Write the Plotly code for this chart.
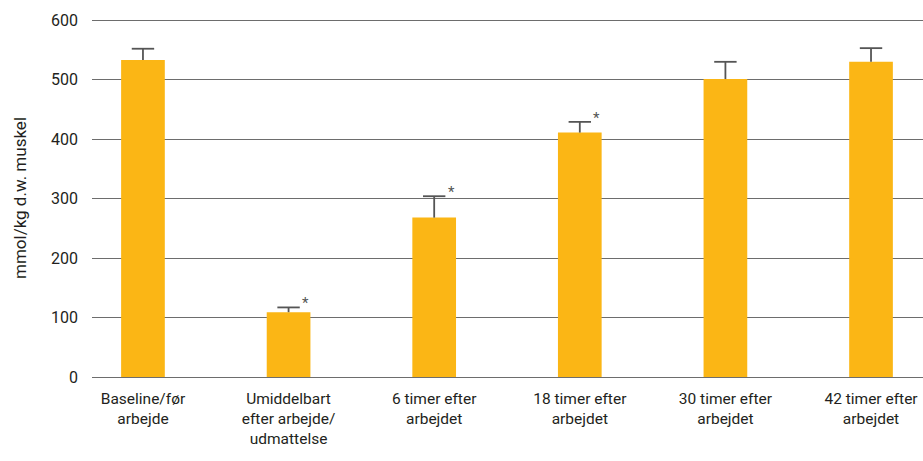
import plotly.graph_objects as go

categories = ["Baseline/før<br>arbejde", "Umiddelbart<br>efter arbejde/<br>udmattelse",
              "6 timer efter<br>arbejdet", "18 timer efter<br>arbejdet",
              "30 timer efter<br>arbejdet", "42 timer efter<br>arbejdet"]
values = [533, 109, 268, 411, 501, 530]
errors = [19, 8, 36, 18, 29, 23]
significant = [False, True, True, True, False, False]
y_ticks = [0, 100, 200, 300, 400, 500, 600]

FONT = "Roboto, Liberation Sans, sans-serif"
ERR_COLOR = "#555555"

fig = go.Figure()
fig.add_trace(go.Bar(
    x=categories, y=values, width=0.30,
    marker=dict(color="#FBB615", line=dict(width=0)),
))

# one-sided (upper) error bars without a lower cap
ex, ey = [], []
for c, v, e in zip(categories, values, errors):
    ex += [c, c, None]
    ey += [v, v + e, None]
fig.add_trace(go.Scatter(x=ex, y=ey, mode="lines",
                         line=dict(color=ERR_COLOR, width=1.8),
                         hoverinfo="skip"))
fig.add_trace(go.Scatter(x=categories, y=[v + e for v, e in zip(values, errors)],
                         mode="markers",
                         marker=dict(symbol="line-ew", size=16,
                                     line=dict(color=ERR_COLOR, width=1.8)),
                         hoverinfo="skip"))

for c, v, e, s in zip(categories, values, errors, significant):
    if s:
        fig.add_annotation(x=c, y=v + e, text="*", showarrow=False,
                           xshift=17, yshift=4,
                           font=dict(family=FONT, size=15, color="#555555"))

fig.update_layout(
    width=923, height=461,
    margin=dict(l=92, r=0, t=19, b=84, autoexpand=False),
    plot_bgcolor="white", paper_bgcolor="white",
    showlegend=False,
    font=dict(family=FONT, size=15.5, color="#231F20"),
    xaxis=dict(type="category", range=[-0.35, 5.357], showgrid=False,
               showline=False, ticks="", tickfont=dict(size=15.5),
               ticklabelstandoff=10, automargin=False),
    yaxis=dict(range=[0, 602], tickvals=y_ticks, showgrid=True,
               gridcolor="#6d6d6d", gridwidth=1.2, zeroline=True,
               zerolinecolor="#6d6d6d", zerolinewidth=1.2,
               ticks="", ticklabelstandoff=13, tickfont=dict(size=16),
               automargin=False,
               title=dict(text="mmol/kg d.w. muskel", font=dict(size=17),
                          standoff=20)),
)

fig.write_html("out.html", config={"displayModeBar": False},
               post_script="document.body.style.margin='0';document.body.style.overflow='hidden';")
